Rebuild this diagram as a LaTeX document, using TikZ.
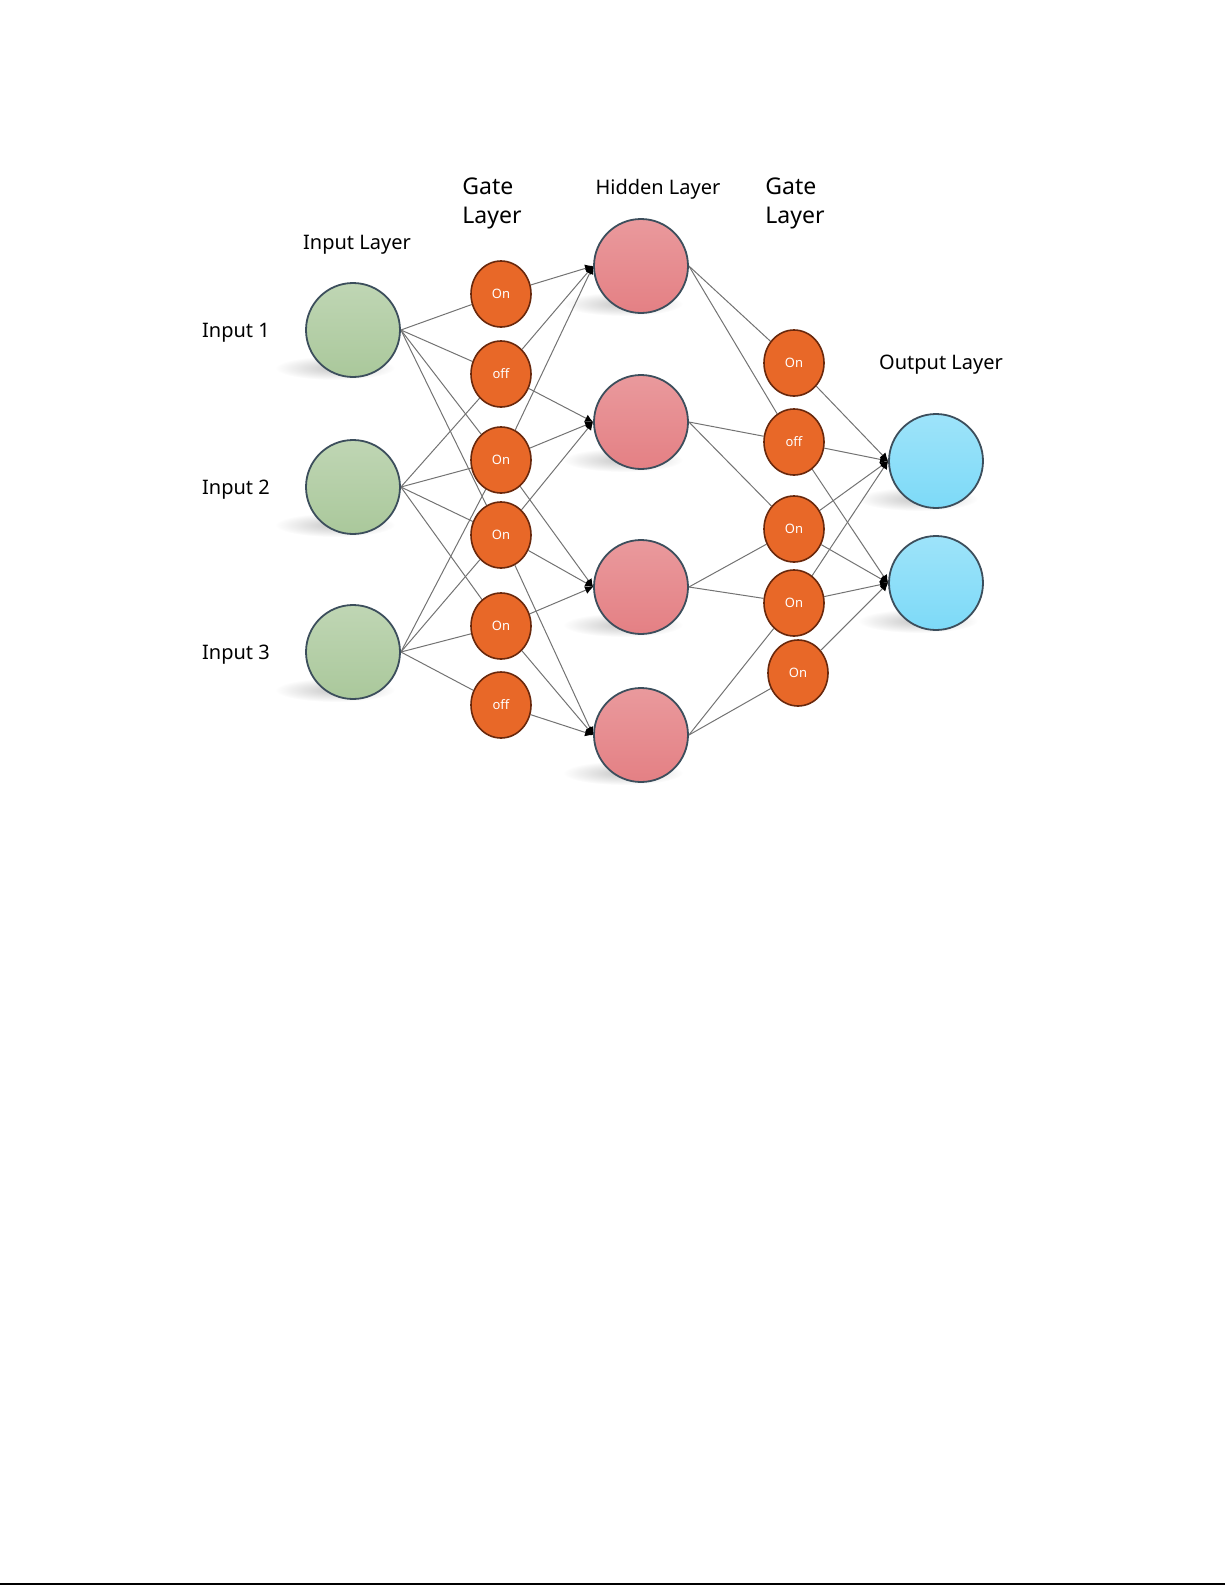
\documentclass[tikz,border=0pt]{standalone}
\usepackage{fontspec}
\setmainfont{Noto Sans}
\usetikzlibrary{shapes.geometric,arrows.meta,backgrounds}
\definecolor{ingreen}{RGB}{170,200,155}
\definecolor{hidpink}{RGB}{228,128,132}
\definecolor{outblue}{RGB}{125,218,248}
\definecolor{bigedge}{RGB}{60,78,92}
\definecolor{gatefill}{RGB}{232,104,40}
\definecolor{gateedge}{RGB}{105,40,12}
\definecolor{linkgray}{RGB}{115,115,115}
\begin{document}
\begin{tikzpicture}[x=0.5pt,y=-0.5pt,
    bignode/.style={circle,draw=bigedge,line width=0.9pt,minimum size=47pt,inner sep=0pt},
    gatenode/.style={ellipse,draw=gateedge,fill=gatefill,line width=0.8pt,minimum width=30pt,minimum height=33pt,inner sep=0pt,text=white,font=\fontsize{6.5}{7}\selectfont},
    link/.style={draw=linkgray,line width=0.5pt},
    tip/.style={link,-{Latex[length=4pt,width=4pt,black]}},
    lbl/.style={font=\fontsize{10}{12}\selectfont,text=black,inner sep=0pt}]
        \useasboundingbox (0,0) rectangle (1225,1585);
        % layers
        \foreach \y [count=\x] in {330,487,652}{%
            \node[bignode,top color=ingreen!75!white,bottom color=ingreen] (I-\x) at (353,\y) {};
            \node[lbl] (T-\x) at (236,\y+3) {Input \x};
        }
        \foreach \y/\t [count=\x] in {294/On,374/off,460/On,535/On,626/On,705/off}
            \node[gatenode] (G-\x) at (501,\y) {\t};
        \foreach \y [count=\x] in {266,422,587,735}
            \node[bignode,top color=hidpink!80!white,bottom color=hidpink] (H-\x) at (641,\y) {};
        \foreach \xx/\y/\t [count=\x] in {794/363/On,794/442/off,794/529/On,794/603/On,798/673/On}
            \node[gatenode] (K-\x) at (\xx,\y) {\t};
        \foreach \y [count=\x] in {461,583}
            \node[bignode,top color=outblue!75!white,bottom color=outblue] (O-\x) at (936,\y) {};
        % titles
        \node[lbl] (L-in) at (357,245) {Input Layer};
        \node[lbl,align=left,anchor=north west,font=\fontsize{11.5}{14.5}\selectfont] (L-ga) at (462,177) {Gate\\Layer};
        \node[lbl] (L-hid) at (658,189) {Hidden Layer};
        \node[lbl,align=left,anchor=north west,font=\fontsize{11.5}{14.5}\selectfont] (L-gb) at (765,177) {Gate\\Layer};
        \node[lbl] (L-out) at (941,365) {Output Layer};
        \begin{scope}[on background layer]
            \foreach \n in {I-1,I-2,I-3,H-1,H-2,H-3,H-4,O-1,O-2}
                \shade[inner color=black!22,outer color=white] ([xshift=-9pt,yshift=-19pt]\n.center) ellipse [x radius=30pt,y radius=6pt];
            \foreach \a/\b in {1/1,1/2,1/3,1/4,2/2,2/3,2/4,2/5,3/3,3/4,3/5,3/6}
                \draw[link] (I-\a.east) -- (G-\b);
            \foreach \a/\b in {1/1,2/1,3/1,2/2,3/2,4/2,3/3,4/3,5/3,4/4,5/4,6/4}
                \draw[tip] (G-\a) -- (H-\b.west);
            \foreach \a/\b in {1/1,1/2,2/2,2/3,3/3,3/4,4/4,4/5}
                \draw[link] (H-\a.east) -- (K-\b);
            \foreach \a/\b in {1/1,2/1,3/1,4/1,2/2,3/2,4/2,5/2}
                \draw[tip] (K-\a) -- (O-\b.west);
        \end{scope}
        \draw[line width=0.6pt] (0,1584) -- (1225,1584);
\end{tikzpicture}
\end{document}
